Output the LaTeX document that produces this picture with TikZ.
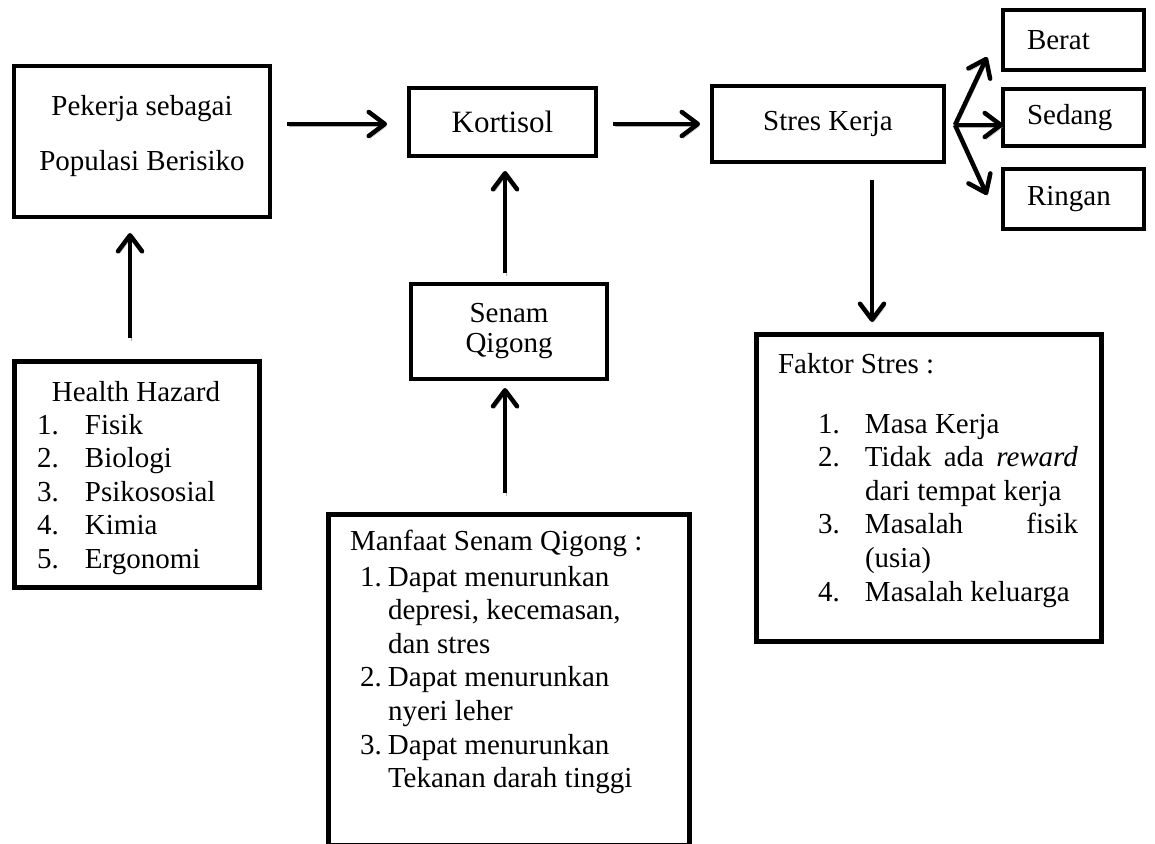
\documentclass[tikz,border=0pt]{standalone}
\usepackage{fontspec}
\setmainfont{Liberation Serif}
\usetikzlibrary{arrows.meta,calc}
\begin{document}
\begin{tikzpicture}[x=1pt,y=-1pt,
  box/.style={draw, line width=3.5pt, inner sep=0pt, outer sep=0pt, font=\fontsize{29}{33.6}\selectfont},
  bigbox/.style={box, line width=5pt},
  txt/.style={inner sep=0pt, outer sep=0pt, font=\fontsize{29}{33.6}\selectfont},
  arr/.style={line width=4.5pt, -{Straight Barb[length=16pt,width=24pt,round]},
    preaction={draw=black!30, transform canvas={shift={(1.5pt,-2.5pt)}}}}]
\clip (0,0) rectangle (1155,843);
\fill[white] (0,0) rectangle (1155,843);

% top row
\node[box, minimum width=256pt, minimum height=151pt] (pop) at (142,141.5) {};
\node[txt, anchor=base] (poptxt1) at (142,115) {Pekerja sebagai};
\node[txt, anchor=base] (poptxt2) at (142,170) {Populasi Berisiko};

\node[box, minimum width=187pt, minimum height=68pt, font=\fontsize{31}{36}\selectfont] (kort) at (502.5,122) {Kortisol};
\node[box, minimum width=232pt, minimum height=76pt] (stres) at (828,124) {Stres Kerja};

\node[box, minimum width=141pt, minimum height=60pt, text width=93pt, inner xsep=24pt, align=left] (berat) at (1073.5,40) {Berat};
\node[box, minimum width=141pt, minimum height=57pt, text width=93pt, inner xsep=24pt, align=left] (sedang) at (1073.5,117.5) {Sedang};
\node[box, minimum width=141pt, minimum height=60pt, text width=93pt, inner xsep=24pt, align=left] (ringan) at (1073.5,199) {Ringan};

% middle
\node[box, minimum width=196pt, minimum height=95pt, align=center, font=\fontsize{29}{30}\selectfont] (senam) at (509,331.5) {Senam\\Qigong};

% Health hazard
\node[bigbox, minimum width=245pt, minimum height=226pt] (hh) at (136.5,474) {};
\node[txt, anchor=base] (hhtitle) at (136,401) {Health Hazard};
\node[txt, anchor=base west] (hhlist) at (37,434) {\begin{tabular}[t]{@{}p{48pt}@{}l@{}}
1.& Fisik\\
2.& Biologi\\
3.& Psikososial\\
4.& Kimia\\
5.& Ergonomi
\end{tabular}};

% Manfaat
\node[bigbox, minimum width=361pt, minimum height=331pt] (manf) at (508.5,679.5) {};
\node[txt, anchor=base west] (manftitle) at (350,550) {Manfaat Senam Qigong :};
\node[txt, anchor=base west] (manflist) at (360,586) {\begin{tabular}[t]{@{}p{28pt}@{}l@{}}
1.& Dapat menurunkan\\
  & depresi, kecemasan,\\
  & dan stres\\
2.& Dapat menurunkan\\
  & nyeri leher\\
3.& Dapat menurunkan\\
  & Tekanan darah tinggi
\end{tabular}};

% Faktor
\node[bigbox, minimum width=345pt, minimum height=307pt] (fak) at (928.5,487.5) {};
\node[txt, anchor=base west] (faktitle) at (778,373) {Faktor Stres :};
\node[txt, anchor=base west] (faklist) at (818,433) {\begin{tabular}[t]{@{}p{47pt}@{}l@{}}
1.& Masa Kerja\\
2.& \makebox[213pt][s]{Tidak ada \textit{reward}}\\
  & dari tempat kerja\\
3.& \makebox[213pt][s]{Masalah fisik}\\
  & (usia)\\
4.& Masalah keluarga
\end{tabular}};

% arrows
\draw[arr] ($(pop.east |- stres.west)+(17,0)$) -- ($(kort.west |- stres.west)+(-22,0)$);
\draw[arr] ($(kort.east |- stres.west)+(17,0)$) -- ($(stres.west)+(-12,0)$);
\coordinate (split) at ($(stres.east)+(11,1)$);
\draw[arr] (split) -- ($(berat.south west)+(-16,-13)$);
\draw[arr] (split) -- (sedang.west |- split);
\draw[arr] (split) -- ($(ringan.north west)+(-16,26)$);

\draw[arr] ($(hh.north)+(-6.5,-23)$) -- ($(pop.south)+(-12,16)$);
\draw[arr] ($(senam.north)+(-4,-11)$) -- ($(kort.south)+(2.5,15)$);
\draw[arr] ($(manf.north)+(-3.5,-21)$) -- ($(senam.south)+(-4,9)$);
\draw[arr] ($(stres.south)+(44,18)$) -- ($(fak.north)+(-56.5,-12)$);
\end{tikzpicture}
\end{document}
